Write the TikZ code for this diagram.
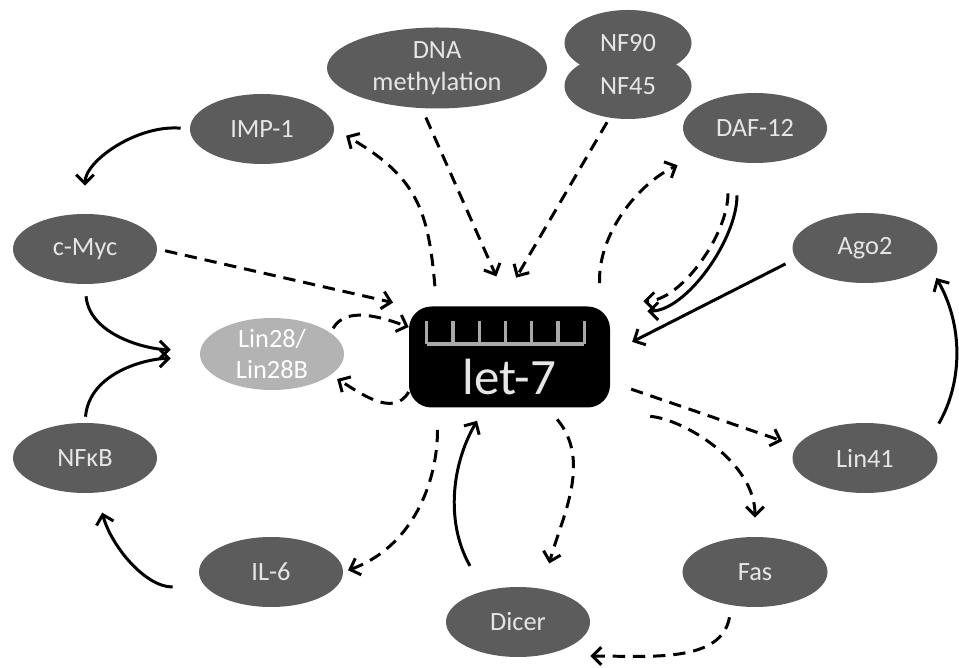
\documentclass[tikz,border=0pt]{standalone}
\usepackage{fontspec}
\setmainfont{Carlito}
\usetikzlibrary{shapes.geometric}
\usetikzlibrary{arrows.meta}

\definecolor{grisoscuro}{HTML}{5C5C5C}
\definecolor{grisclaro}{HTML}{B3B3B3}
\definecolor{grispeine}{HTML}{A8A8A8}
\definecolor{textogris}{HTML}{E6E6E6}

\tikzset{
    gen/.style={ellipse, fill=grisoscuro, draw=none, text=textogris, minimum width=2.88cm, minimum height=1.4cm, inner sep=0pt, align=center, font=\fontsize{15}{18}\selectfont},
    flecha/.style={-{Straight Barb[length=5pt,width=10pt]}, line width=1.7pt},
    discont/.style={flecha, dash pattern=on 7pt off 4.5pt}
}

\begin{document}
\begin{tikzpicture}
    % Fondo y tamaño del dibujo
    \fill[white] (0,0) rectangle (19.18,13.34);
    \useasboundingbox (0,0) rectangle (19.18,13.34);

    % Caja central let-7
    \node[fill=black, rounded corners=0.45cm, minimum width=4.02cm, minimum height=2.02cm, inner sep=0pt] (let7) at (10.19,6.2) {};
    % Peine gris encima del texto
    \draw[grispeine, line width=1.9pt] ([xshift=-1.655cm,yshift=0.26cm]let7.center) -- ++(3.15,0);
    \foreach \i in {0,...,6} {
        \draw[grispeine, line width=1.9pt] ([xshift=-1.655cm+\i*0.525cm,yshift=0.26cm]let7.center) -- ++(0,0.466); % Dientes
    }
    \node[text=textogris, font=\fontsize{29}{30}\selectfont, inner sep=0pt] (let7txt) at ([yshift=-0.39cm]let7.center) {let-7};

    % Elipses alrededor
    \node[gen] (imp) at (5.24,10.76) {IMP-1};
    \node[gen, minimum width=4.4cm, minimum height=1.62cm] (dna) at (8.74,11.98) {DNA\\methylation};
    \node[gen, minimum width=2.54cm, minimum height=1.32cm] (nf45) at (12.56,11.62) {NF45};
    \node[gen, minimum width=2.54cm, minimum height=1.32cm] (nf90) at (12.56,12.48) {NF90};
    \node[gen] (daf) at (15.10,10.78) {DAF-12};
    \node[gen, minimum width=2.9cm] (ago) at (17.30,8.38) {Ago2};
    \node[gen] (cmyc) at (1.70,8.36) {c-Myc};
    \node[gen, fill=grisclaro, text=white, minimum height=1.44cm] (lin28) at (5.44,6.26) {Lin28/\\Lin28B};
    \node[gen] (nfkb) at (1.70,4.18) {NFκB};
    \node[gen] (il6) at (5.42,1.90) {IL-6};
    \node[gen] (dicer) at (10.36,0.90) {Dicer};
    \node[gen, minimum width=2.9cm] (fas) at (15.10,1.90) {Fas};
    \node[gen, minimum width=2.9cm] (lin41) at (17.30,4.18) {Lin41};

    % Flechas de la izquierda
    \draw[flecha, shorten <=0.18cm, shorten >=0.56cm] (imp.west) to[out=175, in=90] (cmyc.north);
    \draw[discont, shorten <=0.16cm, shorten >=0.32cm] (cmyc.east) -- (let7.north west);
    \draw[flecha, shorten <=0.24cm, shorten >=0.58cm] (cmyc.south) to[out=-85, in=180] ([yshift=2.5pt]lin28.west);
    \draw[flecha, shorten <=0.12cm, shorten >=0.58cm] (nfkb.north) to[out=85, in=180] ([yshift=-2.5pt]lin28.west);
    \draw[flecha, shorten <=0.52cm, shorten >=0.4cm] ([yshift=-0.3cm]il6.west) to[out=180, in=-75] ([xshift=0.24cm]nfkb.south);

    % Lin28 y let-7
    \draw[discont, shorten <=0.1cm] (lin28.20) to[out=60, in=160] ([yshift=0.6cm]let7.west);
    \draw[discont, shorten >=0.15cm] ([yshift=-0.7cm]let7.west) to[out=-120, in=-30] (lin28.-20);

    % Flechas de arriba
    \draw[discont, shorten <=0.4cm, shorten >=0.27cm] ([xshift=0.56cm]let7.north west) to[out=95, in=-30, looseness=1.2] (imp.east);
    \draw[discont, shorten <=0.19cm, shorten >=0.65cm] ([xshift=-0.3cm]dna.south) -- (let7.north);
    \draw[discont, shorten <=0.1cm, shorten >=0.66cm] (nf45.240) -- ([xshift=-0.2cm]let7.north);
    \draw[discont, shorten <=0.46cm, shorten >=0.58cm] ([xshift=-0.2cm]let7.north east) to[out=92, in=205] (daf.south west);
    \draw[flecha, shorten <=0.64cm, shorten >=0.74cm] ([xshift=-0.36cm]daf.south) to[out=-90, in=0] ([yshift=-0.1cm]let7.north east);
    \draw[discont, shorten <=0.6cm, shorten >=0.66cm] ([xshift=-0.54cm]daf.south) to[out=-90, in=0] ([yshift=0.1cm]let7.north east);
    \draw[flecha, shorten <=0.15cm, shorten >=0.49cm] ([yshift=-0.25cm]ago.west) -- ([yshift=0.08cm]let7.east);

    % Flechas de la derecha
    \draw[flecha, shorten <=0.4cm, shorten >=0.3cm] (lin41.15) to[out=60, in=-60] (ago.-15);
    \draw[discont, shorten <=0.44cm, shorten >=0.3cm] ([yshift=-0.5cm]let7.east) -- (lin41.170);
    \draw[discont, shorten <=0.8cm, shorten >=0.38cm] ([yshift=-0.1cm]let7.south east) to[out=-5, in=90] (fas.north);
    \draw[discont, shorten <=0.24cm] (fas.235) to[out=-100, in=0] ([yshift=-0.68cm]dicer.east);

    % Flechas de abajo
    \draw[discont, shorten <=0.3cm, shorten >=0.48cm] ([xshift=0.76cm]let7.south) to[out=-50, in=75] ([xshift=0.5cm]dicer.north);
    \draw[flecha, shorten <=0.48cm, shorten >=0.3cm] ([xshift=-0.72cm]dicer.north) to[out=120, in=-120] ([xshift=-0.5cm]let7.south);
    \draw[discont, shorten <=0.44cm, shorten >=0.1cm] ([xshift=-1.44cm]let7.south) to[out=-90, in=20] (il6.east);

\end{tikzpicture}
\end{document}
